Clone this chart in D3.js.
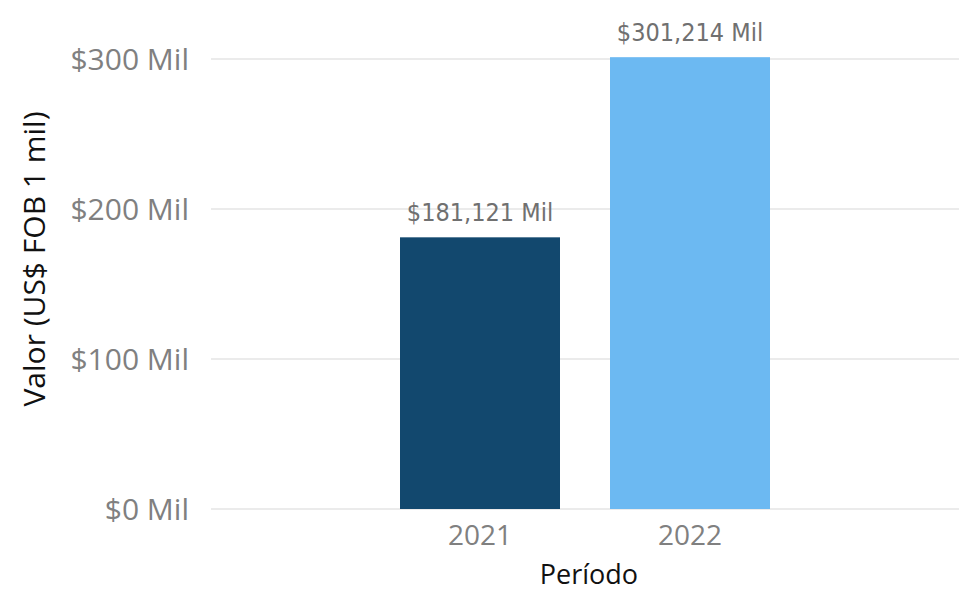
<!DOCTYPE html>
<html><head><meta charset="utf-8">
<script src="https://cdn.jsdelivr.net/npm/d3@7"></script>
<style>body{margin:0;background:#fff;}svg{display:block;}</style>
</head><body>
<svg id="c" width="959" height="595"></svg>
<script>
const categories = ["2021", "2022"];
const values = [181121, 301214];
const yTicks = [0, 100000, 200000, 300000];
const tickLabels = ["$0 Mil", "$100 Mil", "$200 Mil", "$300 Mil"];
const dataLabels = ["$181,121 Mil", "$301,214 Mil"];
const colors = ["#12486E", "#6CB9F2"];

const svg = d3.select("#c");
const y = d3.scaleLinear().domain([0, 300000]).range([509, 59]);
const x = d3.scaleBand().domain(categories).range([375, 795]).paddingInner(50/210).paddingOuter(25/210);

// gridlines
svg.append("g").selectAll("line").data(yTicks).join("line")
  .attr("x1", 211).attr("x2", 959)
  .attr("y1", d => y(d)).attr("y2", d => y(d))
  .attr("stroke", "#ebebeb").attr("stroke-width", 2);

// y tick labels
svg.append("g").selectAll("text").data(yTicks).join("text")
  .attr("x", 189).attr("y", d => y(d)).attr("dy", "0.36em")
  .attr("text-anchor", "end")
  .attr("font-family", "'Open Sans', sans-serif").attr("font-size", 30)
  .attr("fill", "#808080").text((d, i) => tickLabels[i]);

// bars
svg.append("g").selectAll("rect").data(values).join("rect")
  .attr("x", (d, i) => x(categories[i])).attr("width", x.bandwidth())
  .attr("y", d => y(d)).attr("height", d => y(0) - y(d))
  .attr("fill", (d, i) => colors[i]);

// data labels
svg.append("g").selectAll("text").data(values).join("text")
  .attr("x", (d, i) => x(categories[i]) + x.bandwidth() / 2)
  .attr("y", d => y(d) - 16)
  .attr("text-anchor", "middle")
  .attr("font-family", "'DejaVu Sans Condensed', sans-serif").attr("font-size", 25)
  .attr("fill", "#707070").text((d, i) => dataLabels[i]);

// x tick labels
svg.append("g").selectAll("text").data(categories).join("text")
  .attr("x", d => x(d) + x.bandwidth() / 2).attr("y", 545)
  .attr("text-anchor", "middle")
  .attr("font-family", "'Open Sans', sans-serif").attr("font-size", 28)
  .attr("fill", "#808080").text(d => d);

// axis titles
svg.append("text").attr("x", 589).attr("y", 584).attr("text-anchor", "middle")
  .attr("font-family", "'Open Sans', sans-serif").attr("font-size", 27)
  .attr("fill", "#111").text("Período");
svg.append("text").attr("transform", "translate(45,259) rotate(-90)").attr("text-anchor", "middle")
  .attr("font-family", "'Open Sans', sans-serif").attr("font-size", 30)
  .attr("fill", "#111").text("Valor (US$ FOB 1 mil)");
</script>
</body></html>
